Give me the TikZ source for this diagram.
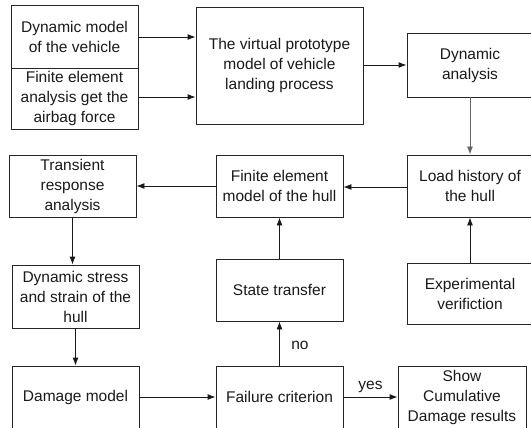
\documentclass[tikz,border=0pt]{standalone}
\usepackage{fontspec}
\setmainfont{Liberation Sans}
\usepackage{tikz}
\usetikzlibrary{arrows.meta,positioning,calc}

\begin{document}
\begin{tikzpicture}[x=1pt,y=-1pt,
			blk/.style={rectangle,draw=black!85,line width=0.9pt,align=center,inner sep=1pt,
				font=\fontsize{15.5}{20}\selectfont,text=black!90},
			w1/.style={minimum width=127pt},
			flow/.style={draw=black!90,line width=0.9pt,-{Latex[length=8pt,width=6pt]}},
			lbl/.style={font=\fontsize{15.5}{20}\selectfont,text=black!90}]
		\useasboundingbox (0,0) rectangle (531,428);
		\clip (0,0) rectangle (531,428);
		% left column
		\path 	(74.5,36.5) node (veh) [blk,w1,minimum height=63pt] {Dynamic model\\of the vehicle}
		        (74.5,98.5) node (fea) [blk,w1,minimum height=61pt] {Finite element\\analysis get the\\airbag force}
		        (72.5,186) 	node (trans) [blk,w1,minimum height=62pt] {Transient\\response\\analysis}
		        (75.5,296.5) node (stress) [blk,w1,minimum height=63pt] {Dynamic stress\\and strain of the\\hull}
		        (75.5,397) 	node (dmg) [blk,w1,minimum height=62pt] {Damage model};
		% middle column
		\path 	(279.5,65.5) node (vp) [blk,minimum width=167pt,minimum height=117pt] {The virtual prototype\\model of vehicle\\landing process}
		        (279.5,186) node (fem) [blk,w1,minimum height=62pt] {Finite element\\model of the hull}
		        (279.5,290) node (st) [blk,w1,minimum height=62pt] {State transfer}
		        (279.5,397) node (fail) [blk,w1,minimum height=62pt] {Failure criterion};
		% right column
		\path 	(470,65) 	node (dyn) [blk,minimum width=126pt,minimum height=64pt] {Dynamic\\analysis}
		        (470,186) 	node (load) [blk,minimum width=126pt,minimum height=62pt] {Load history of\\the hull}
		        (470,293.5) node (exp) [blk,minimum width=126pt,minimum height=61pt] {Experimental\\verifiction}
		        (462,397) 	node (show) [blk,minimum width=128pt,minimum height=62pt] {Show\\Cumulative\\Damage results};
		% connectors
		\draw [flow] ($(veh.east)+(0,0.5)$) -- ($(veh.east -| vp.west)+(0,0.5)$);
		\draw [flow] ($(fea.east)+(0,-1.5)$) -- ($(fea.east -| vp.west)+(0,-1.5)$);
		\draw [flow] (vp.east |- dyn.west) -- (dyn.west);
		\draw [flow,draw=black!60] (dyn.south) -- (load.north);
		\draw [flow] ($(load.west)+(0,1)$) -- ($(fem.east)+(0,1)$);
		\draw [flow] (fem.west) -- (trans.east);
		\draw [flow] (trans.south) -- (trans.south |- stress.north);
		\draw [flow] (stress.south) -- (stress.south |- dmg.north);
		\draw [flow] (dmg.east) -- (fail.west);
		\draw [flow] (fail.north) -- node [lbl,right=8pt,pos=0.45] {no} (st.south);
		\draw [flow] (st.north) -- (fem.south);
		\draw [flow] (fail.east) -- node [lbl,above=1pt] {yes} (show.west);
		\draw [flow] (exp.north) -- (load.south);
	\end{tikzpicture}
\end{document}
